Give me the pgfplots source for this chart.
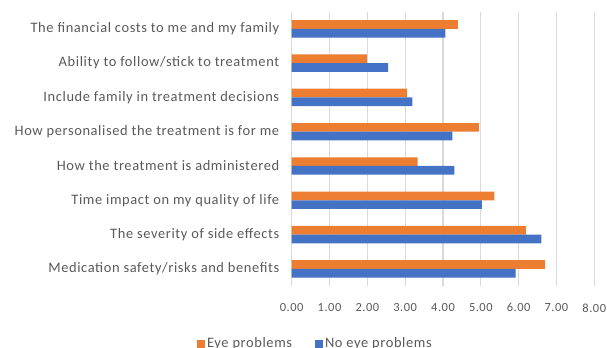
\documentclass[border=0pt]{standalone}
\usepackage{pgfplots}
\pgfplotsset{compat=1.18}
\usepackage{fontspec}
\setmainfont{Carlito}[LetterSpace=4.2]
\definecolor{eyeorange}{HTML}{ED7D31}
\definecolor{noeyeblue}{HTML}{4472C4}
\definecolor{gridgray}{HTML}{D9D9D9}
\definecolor{textgray}{HTML}{595959}

\pgfplotstableread{
idx eye noeye
0 6.70 5.92
1 6.19 6.60
2 5.36 5.03
3 3.33 4.30
4 4.95 4.25
5 3.05 3.19
6 1.99 2.55
7 4.39 4.06
}\ratings

\begin{document}
\begin{tikzpicture}[x=1bp,y=1bp]
\path[use as bounding box] (0,0) rectangle (607,347);
\begin{axis}[
  at={(291.7bp,61bp)}, anchor=south west,
  scale only axis, width=302.6bp, height=274.3bp,
  xbar, bar width=8.7bp,
  xmin=0, xmax=8, xtick={0,1,...,8},
  ymin=-0.5, ymax=7.5,
  ytick={0,...,7},
  yticklabels={Medication safety/risks and benefits,
    The severity of side effects,
    Time impact on my quality of life,
    How the treatment is administered,
    How personalised the treatment is for me,
    Include family in treatment decisions,
    Ability to follow/stick to treatment,
    The financial costs to me and my family},
  /pgf/number format/assume math mode=true,
  xticklabel={\pgfmathprintnumber[fixed,fixed zerofill,precision=2]{\tick}},
  ticklabel style={text=textgray},
  yticklabel style={xshift=-9bp, font=\fontsize{14.5}{17}\selectfont},
  xticklabel style={yshift=-14bp, font=\fontsize{12.5}{15}\selectfont},
  major tick length=0pt,
  xmajorgrids, grid style={gridgray, line width=1.3bp},
  axis line style={draw=none},
  clip=false,
  legend columns=2,
  legend style={draw=none, fill=none, inner sep=0pt, at={(-0.313,-0.181)}, anchor=north west,
    font=\fontsize{14.5}{17}\selectfont, text=textgray,
    /tikz/every even column/.append style={column sep=21bp}},
  legend image code/.code={\fill[#1] (0bp,-4bp) rectangle (8bp,4bp);},
]
\draw[gridgray, line width=1.3bp] (axis cs:0,-0.5) -- (axis cs:0,7.5);
\addplot[fill=eyeorange, draw=none, bar shift=4.35bp] table[x=eye, y=idx] {\ratings};
\addplot[fill=noeyeblue, draw=none, bar shift=-4.35bp] table[x=noeye, y=idx] {\ratings};
\legend{Eye problems, No eye problems}
\end{axis}
\end{tikzpicture}
\end{document}
